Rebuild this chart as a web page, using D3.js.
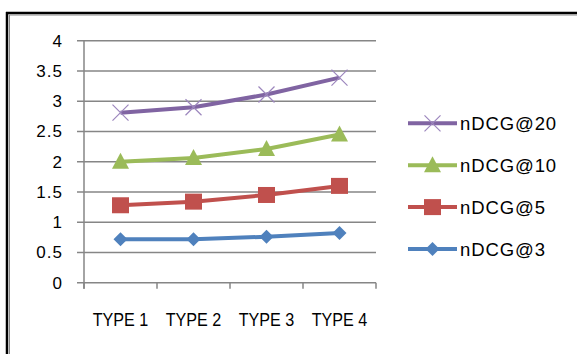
<!DOCTYPE html>
<html><head><meta charset="utf-8">
<script src="https://cdn.jsdelivr.net/npm/d3@7"></script>
<style>body{margin:0;background:#fff}svg{display:block}</style>
</head><body>
<svg id="c" width="577" height="354"></svg>
<script>
const categories = ["TYPE 1", "TYPE 2", "TYPE 3", "TYPE 4"];
const seriesNames = ["nDCG@20", "nDCG@10", "nDCG@5", "nDCG@3"];
const ndcg20 = [2.81, 2.90, 3.11, 3.39];
const ndcg10 = [2.00, 2.06, 2.21, 2.45];
const ndcg5 = [1.28, 1.34, 1.45, 1.60];
const ndcg3 = [0.72, 0.72, 0.76, 0.82];
const yTicks = [0, 0.5, 1, 1.5, 2, 2.5, 3, 3.5, 4];
const colors = ["#8064A2", "#9BBB59", "#C0504D", "#4F81BD"];
const markers = ["x", "triangle", "square", "diamond"];
const seriesValues = [ndcg20, ndcg10, ndcg5, ndcg3];

const svg = d3.select("#c");
const font = "'Liberation Sans', Arial, sans-serif";

// frame
svg.append("line").attr("x1", 6).attr("x2", 577).attr("y1", 13).attr("y2", 13).attr("stroke", "#000").attr("stroke-width", 2.5);
svg.append("line").attr("x1", 9).attr("x2", 577).attr("y1", 15).attr("y2", 15).attr("stroke", "#888").attr("stroke-width", 1);
svg.append("line").attr("x1", 7).attr("x2", 7).attr("y1", 12).attr("y2", 354).attr("stroke", "#000").attr("stroke-width", 2.5);
svg.append("line").attr("x1", 9.5).attr("x2", 9.5).attr("y1", 15).attr("y2", 354).attr("stroke", "#888").attr("stroke-width", 1);

const x = d3.scaleBand().domain(categories).range([84, 376]);
const y = d3.scaleLinear().domain([0, 4]).range([282.7, 40.7]);

// gridlines
svg.append("g").selectAll("line").data(yTicks).join("line")
  .attr("x1", 77).attr("x2", 376)
  .attr("y1", d => y(d)).attr("y2", d => y(d))
  .attr("stroke", "#868686").attr("stroke-width", 1.5);

// y axis line
svg.append("line").attr("x1", 84).attr("x2", 84).attr("y1", y(4)).attr("y2", y(0) + 6)
  .attr("stroke", "#868686").attr("stroke-width", 1.5);

// y labels
svg.append("g").selectAll("text").data(yTicks).join("text")
  .attr("x", 63).attr("y", d => y(d) + 6)
  .attr("text-anchor", "end").attr("font-family", font).attr("font-size", 17)
  .attr("letter-spacing", 1).attr("fill", "#000")
  .text(d => d);

// x ticks
const xb = categories.map(c => x(c)).concat([x.range()[1]]);
svg.append("g").selectAll("line").data(xb).join("line")
  .attr("x1", d => d).attr("x2", d => d).attr("y1", y(0)).attr("y2", y(0) + 6)
  .attr("stroke", "#868686").attr("stroke-width", 1.5);

// x labels
svg.append("g").selectAll("text").data(categories).join("text")
  .attr("transform", d => `translate(${x(d) + x.bandwidth() / 2},326) scale(0.95,1.1)`)
  .attr("text-anchor", "middle").attr("font-family", font).attr("font-size", 17).attr("fill", "#000")
  .text(d => d);

function drawMarker(g, type, color, cx, cy) {
  if (type === "x") {
    const s = 8;
    g.append("path").attr("d", `M${cx - s},${cy - s}L${cx + s},${cy + s}M${cx - s},${cy + s}L${cx + s},${cy - s}`)
      .attr("stroke", "#9c86bd").attr("stroke-width", 1.2).attr("fill", "none");
  } else if (type === "triangle") {
    g.append("path").attr("d", `M${cx},${cy - 9}L${cx + 8.5},${cy + 7}L${cx - 8.5},${cy + 7}Z`).attr("fill", color);
  } else if (type === "square") {
    g.append("rect").attr("x", cx - 8.5).attr("y", cy - 8).attr("width", 17).attr("height", 16).attr("fill", color);
  } else {
    g.append("path").attr("d", `M${cx},${cy - 7}L${cx + 7},${cy}L${cx},${cy + 7}L${cx - 7},${cy}Z`).attr("fill", color);
  }
}

const line = d3.line().x((d, i) => x(categories[i]) + x.bandwidth() / 2).y(d => y(d));

for (let s = seriesValues.length - 1; s >= 0; s--) {
  const g = svg.append("g");
  g.append("path").datum(seriesValues[s]).attr("d", line)
    .attr("fill", "none").attr("stroke", colors[s]).attr("stroke-width", 4);
  seriesValues[s].forEach((v, i) => drawMarker(g, markers[s], colors[s], x(categories[i]) + x.bandwidth() / 2, y(v)));
}

// legend
const legY = d3.scalePoint().domain(seriesNames).range([123.3, 249]);
seriesNames.forEach((n, s) => {
  const g = svg.append("g");
  const ly = legY(n);
  g.append("line").attr("x1", 408).attr("x2", 457).attr("y1", ly).attr("y2", ly)
    .attr("stroke", colors[s]).attr("stroke-width", 4);
  drawMarker(g, markers[s], colors[s], 432.5, ly);
  g.append("text").attr("x", 460).attr("y", ly + 7)
    .attr("font-family", font).attr("font-size", 18.5).attr("letter-spacing", 0.9)
    .attr("fill", "#000").text(n);
});
</script>
</body></html>
